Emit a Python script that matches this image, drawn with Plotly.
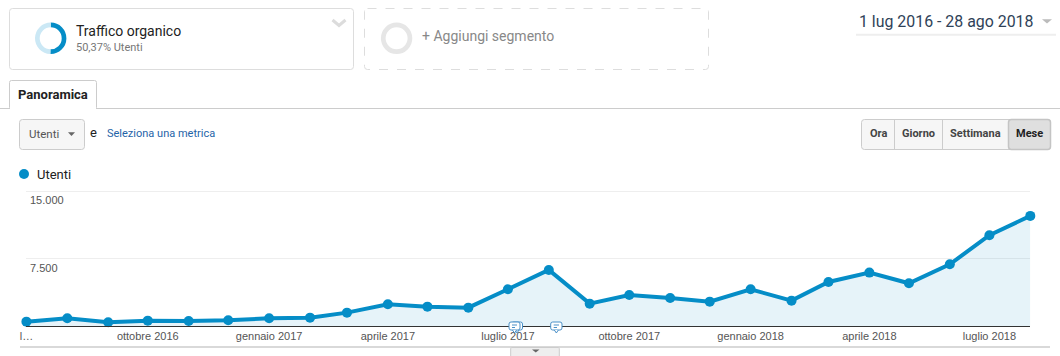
import plotly.graph_objects as go

W, H = 1060, 356
months = ["2016-07-01","2016-08-01","2016-09-01","2016-10-01","2016-11-01","2016-12-01","2017-01-01","2017-02-01","2017-03-01",
          "2017-04-01","2017-05-01","2017-06-01","2017-07-01","2017-08-01","2017-09-01","2017-10-01","2017-11-01","2017-12-01",
          "2018-01-01","2018-02-01","2018-03-01","2018-04-01","2018-05-01","2018-06-01","2018-07-01","2018-08-01"]
utenti = [483,854,408,594,557,631,854,928,1485,2413,2153,2042,4084,6238,2488,3453,3119,2710,4084,2822,4901,5941,4752,6869,10099,12252]
x_tick_vals = ["2016-07-01","2016-10-01","2017-01-01","2017-04-01","2017-07-01","2017-10-01","2018-01-01","2018-04-01","2018-07-01"]
x_tick_text = ["l…","ottobre 2016","gennaio 2017","aprile 2017","luglio 2017","ottobre 2017","gennaio 2018","aprile 2018","luglio 2018"]
y_tick_vals = [7500, 15000]
y_tick_text = ["7.500", "15.000"]
segment_share = [50.37, 49.63]

BLUE = "#058DC7"
L, R, T, B = 26.4, 1030.3, 189.4, 326
Y_TOP = 15200

def px(x): return x / W
def py(y): return 1 - y / H

shapes, annos = [], []

def rrect(x0, y0, x1, y1, r=3, fill="#ffffff", line="#dddddd", lw=1, dash="solid", layer="below"):
    a, b, c, d = px(x0), py(y0), px(x1), py(y1)
    rx, ry = r / W, r / H
    p = (f"M{a+rx},{b} L{c-rx},{b} Q{c},{b} {c},{b-ry} L{c},{d+ry} Q{c},{d} {c-rx},{d} "
         f"L{a+rx},{d} Q{a},{d} {a},{d+ry} L{a},{b-ry} Q{a},{b} {a+rx},{b} Z")
    shapes.append(dict(type="path", xref="paper", yref="paper", path=p, fillcolor=fill,
                       line=dict(color=line, width=lw, dash=dash), layer=layer))

def poly(points, fill=None, line=None, lw=0, closed=True):
    p = "M" + " L".join(f"{px(x)},{py(y)}" for x, y in points) + (" Z" if closed else "")
    shapes.append(dict(type="path", xref="paper", yref="paper", path=p,
                       fillcolor=fill if fill else "rgba(0,0,0,0)",
                       line=dict(color=line if line else "rgba(0,0,0,0)", width=lw), layer="above"))

def hline(x0, x1, y, color, lw=1):
    shapes.append(dict(type="line", xref="paper", yref="paper", x0=px(x0), x1=px(x1), y0=py(y), y1=py(y),
                       line=dict(color=color, width=lw), layer="above"))

def vline(x, y0, y1, color, lw=1):
    shapes.append(dict(type="line", xref="paper", yref="paper", x0=px(x), x1=px(x), y0=py(y0), y1=py(y1),
                       line=dict(color=color, width=lw), layer="above"))

def text(x, y, s, size=12, color="#333333", family="Roboto", anchor="left", bold=False):
    annos.append(dict(xref="paper", yref="paper", x=px(x), y=py(y), text=f"<b>{s}</b>" if bold else s,
                      showarrow=False, xanchor=anchor, yanchor="middle",
                      font=dict(size=size, color=color, family=family), borderpad=0, borderwidth=0))

# segment cards
rrect(9.5, 8.5, 353.5, 69.5)
poly([(332.5, 20), (339, 25.5), (345.5, 20)], line="#dcdcdc", lw=3, closed=False)
text(76.4, 31, "Traffico organico", 14, "#222222")
text(76.4, 47, "50,37% Utenti", 11, "#777777")
rrect(364.5, 8.5, 708.5, 69.5, line="#dddddd", dash="dash")
text(421.5, 36.5, "+ Aggiungi segmento", 14, "#888888")

# date range
text(859, 21.5, "1 lug 2016 - 28 ago 2018", 15.9, "#2f4258")
poly([(1042, 19.3), (1052, 19.3), (1047, 23.5)], fill="#bbbbbb")
hline(856, 1056, 34.7, "#eeeeee", 2)

# tab bar
hline(0, 1060, 108.5, "#cccccc", 1)
rrect(9.5, 80.5, 96.5, 109.5, r=2, line="#cccccc")
hline(10, 96, 109, "#ffffff", 2)
text(53, 94.7, "Panoramica", 13, "#222222", anchor="center", bold=True)

# metric selector
rrect(19.5, 119.5, 84.5, 149.5, fill="#f6f6f6", line="#cccccc")
text(29, 134, "Utenti", 11.5, "#555555")
poly([(68, 132.3), (75, 132.3), (71.5, 136)], fill="#666666")
text(89.5, 132.5, "e", 13, "#222222")
text(107, 134, "Seleziona una metrica", 11, "#1f64a8")

# granularity buttons
rrect(861.5, 119.5, 1050.5, 149.5, fill="#f6f6f6", line="#cccccc")
rrect(1008.5, 119.5, 1050.5, 149.5, fill="#dfdfdf", line="#c4c4c4", lw=1.5)
vline(894.5, 119.5, 149.5, "#cccccc")
vline(942.5, 119.5, 149.5, "#cccccc")
for cx, label, col in [(878, "Ora", "#444444"), (918.5, "Giorno", "#444444"),
                       (975.5, "Settimana", "#444444"), (1029.5, "Mese", "#222222")]:
    text(cx, 134, label, 11, col, anchor="center", bold=True)

# legend
text(37, 174, "Utenti", 13, "#222222")
shapes.append(dict(type="circle", xref="paper", yref="paper", x0=px(19), x1=px(29), y0=py(169), y1=py(179),
                   fillcolor=BLUE, line=dict(width=0), layer="above"))

# bottom rule + handle
hline(20, 1050, 347, "#cccccc", 1.5)
rrect(510.7, 347.5, 559.3, 358, r=1, fill="#eeeeee", line="#cccccc", layer="above")
poly([(532, 349.5), (539.5, 349.5), (535.75, 352.5)], fill="#666666")

# annotation icons
def icon(x0, x1):
    rrect(x0, 322, x1, 330, r=2, fill="#ffffff", line="#4a90c8", lw=1, layer="above")
    cx = (x0 + x1) / 2
    poly([(cx - 2, 330), (cx, 333), (cx + 2, 330)], fill="#ffffff", line="#4a90c8", lw=1, closed=False)
    hline(x0 + 3, x1 - 3, 325, "#4a90c8", 1)
    hline(x0 + 3, x1 - 5, 327.5, "#4a90c8", 1)

icon(511.5, 522.5)
icon(509, 520)
icon(550.7, 562)

# y labels below gridlines
for v, t in zip(y_tick_vals, y_tick_text):
    annos.append(dict(xref="paper", yref="y", x=px(28), y=v, yshift=-9, text=t, showarrow=False, xanchor="left",
                      yanchor="middle", font=dict(size=11, color="#555555", family="Liberation Sans")))

fig = go.Figure()
fig.add_trace(go.Scatter(x=months, y=utenti, mode="lines+markers", name="Utenti", cliponaxis=False,
                         line=dict(color=BLUE, width=4), marker=dict(color=BLUE, size=10),
                         fill="tozeroy", fillcolor="rgba(5,141,199,0.1)", showlegend=False))
fig.add_trace(go.Pie(values=segment_share, sort=False, direction="clockwise", rotation=0, hole=0.7,
                     marker=dict(colors=[BLUE, "#cbe8f5"], line=dict(width=0)), textinfo="none", showlegend=False,
                     domain=dict(x=[px(35), px(66.4)], y=[py(54), py(22.6)])))
fig.add_trace(go.Pie(values=[1], hole=0.7, marker=dict(colors=["#e6e6e6"], line=dict(width=0)), textinfo="none",
                     showlegend=False, domain=dict(x=[px(380.9), px(412.3)], y=[py(54), py(22.6)])))

fig.update_layout(
    width=W, height=H, margin=dict(l=0, r=0, t=0, b=0, autoexpand=False), paper_bgcolor="white", plot_bgcolor="rgba(0,0,0,0)",
    shapes=shapes, annotations=annos, showlegend=False,
    xaxis=dict(domain=[px(L), px(R)], type="date", range=[months[0], months[-1]], tickmode="array",
               tickvals=x_tick_vals, ticktext=x_tick_text, showgrid=False, zeroline=False, ticks="",
               showline=True, linecolor="#333333", linewidth=1, automargin=False,
               tickfont=dict(size=11, color="#555555", family="Liberation Sans")),
    yaxis=dict(domain=[py(B), py(T)], range=[0, Y_TOP], tickmode="array", tickvals=[0] + y_tick_vals,
               showticklabels=False, showgrid=True, gridcolor="#eeeeee", gridwidth=1, zeroline=False, ticks="", automargin=False),
)
fig.write_html("out.html", config=dict(displayModeBar=False),
               post_script="document.body.style.margin='0';document.body.style.overflow='hidden';")
